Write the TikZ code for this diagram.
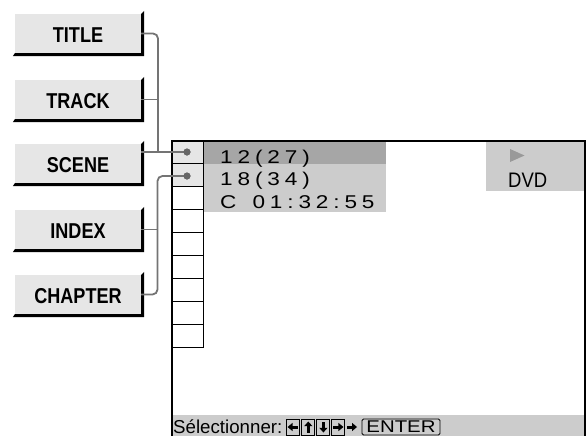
\documentclass[tikz,border=0pt]{standalone}
\usepackage{fontspec}
\setmainfont{Liberation Sans}
\definecolor{cBtn}{HTML}{E6E6E6}
\definecolor{cConn}{HTML}{747474}
\definecolor{cDot}{HTML}{666666}
\definecolor{cDark}{HTML}{A6A6A6}
\definecolor{cLight}{HTML}{CCCCCC}
\definecolor{cTri}{HTML}{999999}
\newcommand\trk{\kern4pt}
\newcommand\btnshadow[1]{\fill[black] ([xshift=-2pt,yshift=-3pt]#1.south west) -- (#1.south west) -- (#1.south east) -- (#1.north east) -- ([xshift=3pt,yshift=3pt]#1.north east) -- ([xshift=3pt,yshift=-3pt]#1.south east) -- cycle;}
\tikzset{
  btnbox/.style={rectangle, fill=cBtn, minimum width=126pt, minimum height=39pt, inner sep=0pt,
    font=\fontsize{21.5}{21.5}\selectfont\bfseries, text height=17.5pt},
  connline/.style={draw=cConn, line width=1.8pt},
  dotnode/.style={circle, fill=cDot, inner sep=0pt, minimum size=7pt},
  cell/.style={rectangle, draw=black, line width=1pt, minimum width=31pt, minimum height=22.9pt, inner sep=0pt},
  scrtext/.style={anchor=base west, inner sep=0pt, font=\fontsize{18.5}{18.5}\selectfont},
  keybox/.style={rectangle, draw=black, line width=0.9pt, minimum width=13pt, minimum height=16pt, inner sep=0pt},
}
\begin{document}
\begin{tikzpicture}[x=1pt,y=-1pt]
\useasboundingbox (0,0) rectangle (586,436);

% buttons
\node[btnbox] (title) at (78,33.5) {\scalebox{0.84}[1]{TITLE}};
\node[btnbox] (track) at (78,99.5) {\scalebox{0.84}[1]{TRACK}};
\node[btnbox] (scene) at (78,163.5) {\scalebox{0.84}[1]{SCENE}};
\node[btnbox] (index) at (78,229.5) {\scalebox{0.84}[1]{INDEX}};
\node[btnbox] (chapter) at (78,294.5) {\scalebox{0.84}[1]{CHAPTER}};
\btnshadow{title}
\btnshadow{track}
\btnshadow{scene}
\btnshadow{index}
\btnshadow{chapter}

% screen backgrounds
\fill[cLight] (173,415) rectangle (584,436);
\fill[cDark] (203,142) rectangle (386,164);
\fill[cLight] (203,164) rectangle (386,212);
\fill[cLight] (486,142) rectangle (584,191);

% cells
\foreach \i in {1,...,9} {
  \pgfmathsetmacro\cy{141+22.9*(\i-0.5)}
  \ifnum\i<3
    \node[cell, fill=cBtn] (c\i) at (187.5,\cy) {};
  \else
    \node[cell] (c\i) at (187.5,\cy) {};
  \fi
}

% screen outline
\draw[black, line width=2pt] (172,436) -- (172,141) -- (585,141) -- (585,436);

% screen texts
\node[scrtext] (r1) at (220,163) {\scalebox{1.22}[1]{1\trk2\trk(\trk2\trk7\trk)}};
\node[scrtext] (r2) at (220,185.5) {\scalebox{1.22}[1]{1\trk8\trk(\trk3\trk4\trk)}};
\node[scrtext] (r3) at (220,208) {\scalebox{1.22}[1]{C\trk\ \trk0\trk1\trk:\trk3\trk2\trk:\trk5\trk5}};

% right panel
\fill[cTri] (510,149) -- (524.5,155.5) -- (510,162) -- cycle;
\node[anchor=base west, inner sep=0pt, font=\fontsize{21}{21}\selectfont] (dvd) at (508,187) {\scalebox{0.88}[1]{DVD}};

% footer
\node[anchor=base west, inner sep=0pt, font=\fontsize{18.7}{18.7}\selectfont] (sel) at (173,433) {Sélectionner:};
\node[keybox] (kl) at (292.6,427) {};
\node[keybox] (ku) at (308.3,427) {};
\node[keybox] (kd) at (323.4,427) {};
\node[keybox] (kr) at (338.4,427) {};
\coordinate (marr) at (352,427);
\node[keybox, minimum width=78pt, rounded corners=1.5pt, font=\fontsize{17}{17}\selectfont] (enter) at (401,427) {\scalebox{1.2}[1]{ENTER}};
% key arrows
\fill ([shift={(-5,0)}]kl.center) -- ([shift={(0,-4.2)}]kl.center) -- ([shift={(0,4.2)}]kl.center) -- cycle;
\fill ([shift={(-0.2,-1.5)}]kl.center) rectangle ([shift={(5,1.5)}]kl.center);
\fill ([shift={(0,-5.5)}]ku.center) -- ([shift={(-4.2,-0.8)}]ku.center) -- ([shift={(4.2,-0.8)}]ku.center) -- cycle;
\fill ([shift={(-1.5,-1)}]ku.center) rectangle ([shift={(1.5,5.5)}]ku.center);
\fill ([shift={(0,5.5)}]kd.center) -- ([shift={(-4.2,0.8)}]kd.center) -- ([shift={(4.2,0.8)}]kd.center) -- cycle;
\fill ([shift={(-1.5,1)}]kd.center) rectangle ([shift={(1.5,-5.5)}]kd.center);
\fill ([shift={(5,0)}]kr.center) -- ([shift={(0,-4.2)}]kr.center) -- ([shift={(0,4.2)}]kr.center) -- cycle;
\fill ([shift={(0.2,-1.5)}]kr.center) rectangle ([shift={(-5,1.5)}]kr.center);
\fill ([shift={(5,0)}]marr) -- ([shift={(0,-4.2)}]marr) -- ([shift={(0,4.2)}]marr) -- cycle;
\fill ([shift={(0.2,-1.5)}]marr) rectangle ([shift={(-5,1.5)}]marr);

% connectors
\node[dotnode] (d1) at (187,152) {};
\node[dotnode] (d2) at (187,176) {};
\coordinate (j1) at (158,152);
\coordinate (j2) at (157.5,294.5);
\draw[connline, rounded corners=5pt] (title.east) -| (j1);
\draw[connline] (track.east) -- (track.east -| j1);
\draw[connline] (scene.east |- d1) -- (d1.center);
\draw[connline, rounded corners=5pt] (d2.center) -| (j2) -- (chapter.east);
\draw[connline] (index.east) -- (index.east -| j2);
\node[dotnode] at (d1) {};
\node[dotnode] at (d2) {};
\end{tikzpicture}
\end{document}
